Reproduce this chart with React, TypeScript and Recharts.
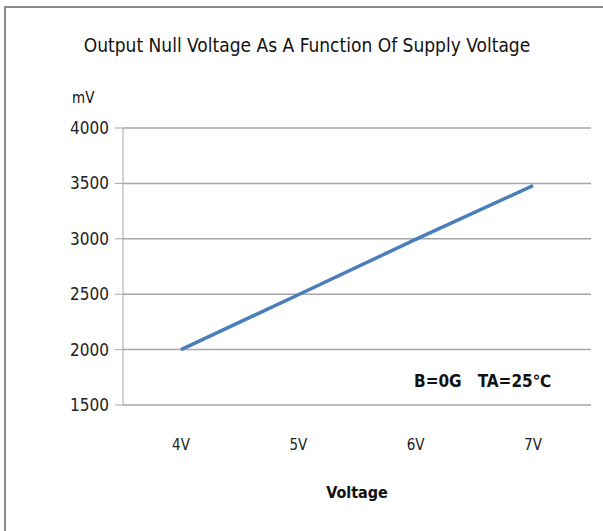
import React from 'react';
import { LineChart, Line, XAxis, YAxis, CartesianGrid, Label } from 'recharts';

const supplyVoltages = ['4V', '5V', '6V', '7V'];
const nullVoltageMv = [2000, 2495, 2995, 3480];
const yTicks = [1500, 2000, 2500, 3000, 3500, 4000];

const data = supplyVoltages.map((name, i) => ({ name, mv: nullVoltageMv[i] }));

const FONT = '"DejaVu Sans Condensed", "DejaVu Sans", sans-serif';
const txt = { fontFamily: FONT, fontStretch: 'condensed' as const };

const App: React.FC = () => {
  return (
    <div style={{ position: 'absolute', left: 0, top: 0, width: 603, height: 531, background: '#fff', ...txt }}>
      {/* frame of the original sheet */}
      <div
        style={{
          position: 'absolute',
          left: 4,
          top: 6,
          width: 620,
          height: 540,
          borderLeft: '2px solid #8c8c8c',
          borderTop: '2px solid #8c8c8c',
        }}
      />
      <div
        style={{
          position: 'absolute',
          left: 0,
          top: 34,
          width: 614,
          textAlign: 'center',
          fontSize: 19,
          color: '#111',
        }}
      >
        Output Null Voltage As A Function Of Supply Voltage
      </div>
      <div style={{ position: 'absolute', left: 72, top: 89, fontSize: 15, color: '#111' }}>mV</div>
      <div
        style={{
          position: 'absolute',
          left: 414,
          top: 371,
          fontSize: 17,
          fontWeight: 'bold',
          color: '#111',
          whiteSpace: 'pre',
        }}
      >
        {'B=0G   TA=25℃'}
      </div>
      <div style={{ position: 'absolute', left: 0, top: 0 }}>
        <LineChart
          width={603}
          height={531}
          data={data}
          margin={{ top: 128, right: 12, left: 63, bottom: 66 }}
        >
          <CartesianGrid vertical={false} stroke="#a6a6a6" strokeWidth={1.5} />
          <XAxis
            dataKey="name"
            axisLine={false}
            tickLine={false}
            padding={{ left: 58, right: 58 }}
            tick={{ fontSize: 15, fill: '#222', ...txt }}
            tickMargin={28}
            height={60}
          >
            <Label
              value="Voltage"
              position="insideBottom"
              offset={-33}
              style={{ fontSize: 16, fontWeight: 600, fill: '#111', ...txt }}
            />
          </XAxis>
          <YAxis
            domain={[1500, 4000]}
            ticks={yTicks}
            interval={0}
            width={60}
            stroke="#a6a6a6"
            tickSize={8}
            tick={{ fontSize: 17, fill: '#222', ...txt }}
            tickMargin={6}
          />
          <Line
            type="linear"
            dataKey="mv"
            stroke="#4a7ebb"
            strokeWidth={3.5}
            dot={false}
            isAnimationActive={false}
          />
        </LineChart>
      </div>
    </div>
  );
};

export default App;
